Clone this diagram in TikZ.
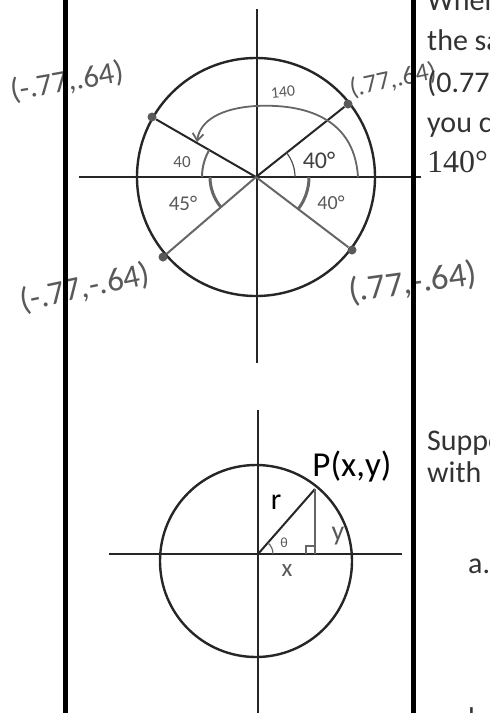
\documentclass[tikz,border=0pt]{standalone}
\usepackage{fontspec}
\setmainfont{Carlito}
\newfontfamily\numfont{Liberation Serif}
\usetikzlibrary{calc,arrows.meta}

\begin{document}
\begin{tikzpicture}[x=1pt,y=-1pt,
  pen/.style={color=black!85,line width=2pt},
  hand/.style={color=black!60,line width=2pt},
  bar/.style={color=black,line width=5pt},
  dot/.style={circle,fill=black!65,inner sep=0pt,minimum size=9pt},
  lbl/.style={color=black!65,inner sep=0pt,font=\fontsize{24}{24}\selectfont},
  txt/.style={color=black!80,anchor=base west,inner sep=0pt,font=\fontsize{30}{30}\selectfont}]
\useasboundingbox (0,0) rectangle (490,713);
\clip (0,0) rectangle (490,713);

\coordinate (O1) at (256,177);
\coordinate (O2) at (258,554);

\node[lbl,rotate=10,font=\fontsize{31}{31}\selectfont] (L0) at (67,82) {(-.77,.64)};
\node[lbl,rotate=12,font=\fontsize{26}{26}\selectfont] (L1) at (393,80) {(.77,.64)};
\node[lbl,rotate=12,font=\fontsize{33}{33}\selectfont] (L2) at (85,288) {(-.77,-.64)};
\node[lbl,rotate=8,font=\fontsize{35}{35}\selectfont] (L3) at (413,283) {(.77,-.64)};

\node[txt] (T0) at (427,10) {When};
\node[txt] (T1) at (427,50) {the sa};
\node[txt] (T2) at (427,92) {(0.77,};
\node[txt] (T3) at (427,132) {you ca};
\node[txt,font=\numfont\fontsize{32}{32}\selectfont] (T4) at (427,172) {140°};
\node[txt] (T5) at (427,450) {Suppo};
\node[txt] (T6) at (427,482) {with};
\node[txt] (T7) at (468,573) {a.};
\node[txt] (T8) at (468,728) {b.};

\draw[pen] (79,177) -- (421,177);
\draw[pen] (257,9) -- (257,363);
\draw[pen,line width=2.4pt] (O1) circle[radius=119];

\node[dot] (P0) at (348,104) {};
\node[dot] (P1) at (152,117) {};
\node[dot] (P2) at (163,257) {};
\node[dot] (P3) at (352,250) {};
\path[pen] (O1) edge (P0) (O1) edge (P1);
\path[hand] (O1) edge (P2) (O1) edge (P3);

\draw[pen,line width=1.2pt,color=black!70] ($(O1)+(39,0)$) arc[start angle=0,end angle=-39,radius=39];
\draw[hand,line width=3pt] ($(O1)+(53,0)$) arc[start angle=0,end angle=38,radius=53];
\draw[hand] ($(O1)+(-54,0)$) arc[start angle=180,end angle=210,radius=54];
\draw[hand,line width=3pt] ($(O1)+(-46,0)$) arc[start angle=180,end angle=140,radius=47];
\draw[hand,line width=1.8pt,-{Straight Barb[length=7pt,width=11pt]}] (358,177)
  .. controls (354,112) and (295,104) .. (256,106)
  .. controls (222,108) and (200,120) .. (197,142);

\node[lbl,font=\fontsize{16}{16}\selectfont,rotate=5] (A0) at (283,92) {140};
\node[lbl,color=black!75,font=\fontsize{24}{24}\selectfont] (A1) at (319,160) {40°};
\node[lbl,font=\fontsize{20}{20}\selectfont] (A2) at (331,203) {40°};
\node[lbl,font=\fontsize{17}{17}\selectfont] (A3) at (182,162) {40};
\node[lbl,font=\fontsize{21}{21}\selectfont] (A4) at (183,203) {45°};

\draw[pen] (109,554) -- (402,554);
\draw[pen] (258,410) -- (258,713);
\draw[pen,line width=2.4pt] (256,561) circle[radius=96];

\coordinate (P) at (315,489);
\coordinate (F) at (315,554);
\draw[pen] (O2) -- (P);
\draw[hand] (P) -- (F);
\draw[hand,line width=1.2pt] ($(F)+(-9,0)$) -- ($(F)+(-9,-8)$) -- ($(F)+(0,-8)$);
\draw[hand,line width=1.2pt] ($(O2)+(15,0)$) arc[start angle=0,end angle=-49,radius=15];

\node[inner sep=0pt,font=\fontsize{35}{35}\selectfont] (N0) at (352,467) {P(x,y)};
\node[inner sep=0pt,font=\fontsize{30}{30}\selectfont] (N1) at (276,502) {r};
\node[lbl,font=\fontsize{14}{14}\selectfont] (N2) at (284,543) {θ};
\node[lbl,font=\fontsize{25}{25}\selectfont] (N3) at (287,571) {x};
\node[lbl,font=\fontsize{28}{28}\selectfont] (N4) at (338,536) {y};

\draw[bar] (65,0) -- (65,713);
\draw[bar] (413,0) -- (413,713);
\end{tikzpicture}
\end{document}
